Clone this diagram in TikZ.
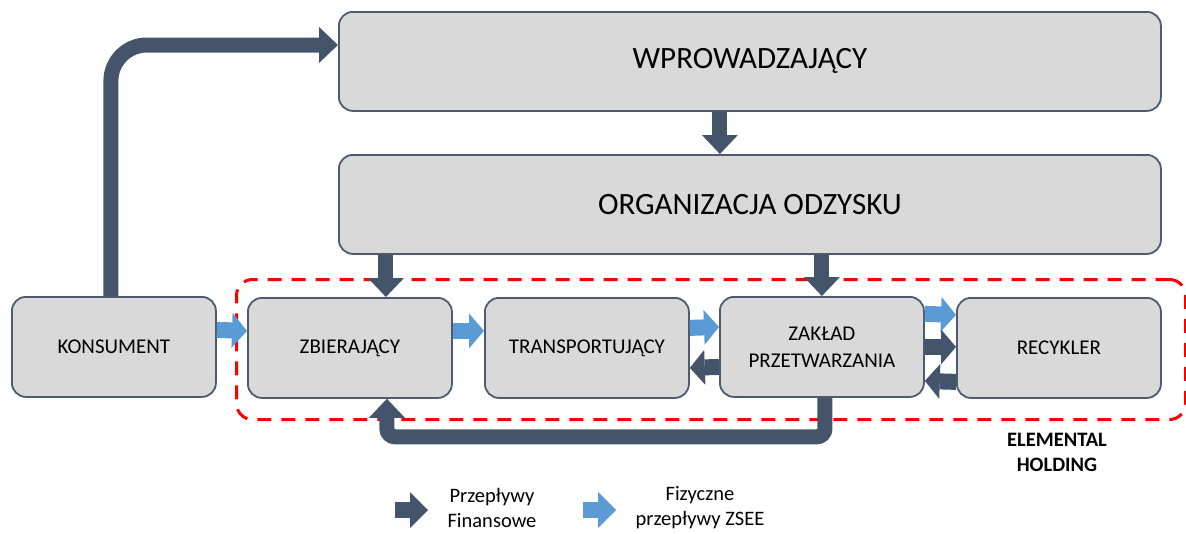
\documentclass[tikz,border=0pt]{standalone}
\usepackage{fontspec}
\setmainfont{Carlito}
\usetikzlibrary{arrows.meta,calc}
\definecolor{boxfill}{HTML}{D9D9D9}
\definecolor{boxline}{HTML}{4D5B70}
\definecolor{darkarr}{HTML}{44546A}
\definecolor{lightarr}{HTML}{5B9BD5}
\begin{document}
\begin{tikzpicture}[x=1pt,y=-1pt,
  box/.style={draw=boxline, line width=1.8pt, fill=boxfill, rounded corners=14pt,
    inner sep=0pt, anchor=north west, align=center, text=black},
  bigbox/.style={box, minimum width=822pt, minimum height=99pt, font=\fontsize{31}{37}\selectfont},
  smallbox/.style={box, minimum width=204pt, minimum height=100pt, font=\fontsize{21}{27}\selectfont},
  fatdark/.style={draw=darkarr, line width=15pt, -{Triangle[width=36pt,length=19pt,line width=0pt]}},
  hdark/.style={draw=darkarr, line width=16pt, -{Triangle[width=35pt,length=15pt,line width=0pt]}},
  hlight/.style={draw=lightarr, line width=16pt, -{Triangle[width=35pt,length=15pt,line width=0pt]}},
  legendtext/.style={align=center, font=\fontsize{20.5}{25}\selectfont},
  holding/.style={draw=red, line width=3pt, dash pattern=on 14pt off 10pt, rounded corners=16pt,
    anchor=north west, inner sep=0pt, minimum width=949pt, minimum height=140pt}
]
\useasboundingbox (0,0) rectangle (1186,533);

% ELEMENTAL HOLDING frame
\node[holding] (eh) at (235,278) {};

% boxes
\node[bigbox] (wpr) at (338,11) {WPROWADZAJĄCY};
\node[bigbox] (org) at (338,154) {ORGANIZACJA ODZYSKU};
\node[smallbox] (kons) at (11,296) {KONSUMENT};
\node[smallbox] (zbi) at (247,297) {ZBIERAJĄCY};
\node[smallbox] (tra) at (484,297) {TRANSPORTUJĄCY};
\node[smallbox] (zak) at (719,296) {ZAKŁAD\\PRZETWARZANIA};
\node[smallbox] (rec) at (956,297) {RECYKLER};

\node[font=\bfseries\fontsize{20.5}{25}\selectfont, align=center] (ehl) at (1057,452) {ELEMENTAL\\HOLDING};

% financial flows
\draw[fatdark, rounded corners=36pt] ($(kons.north)+(-3,0)$) |- ($(wpr.north west)+(0,34)$);
\coordinate (wprOut) at ($(wpr.south)+(-30,0)$);
\draw[fatdark] (wprOut) -- (wprOut |- org.north);
\coordinate (zbiIn) at ($(zbi.north)+(36,0)$);
\draw[fatdark] (zbiIn |- org.south) -- (zbiIn);
\draw[fatdark] (zak.north |- org.south) -- (zak.north);
\coordinate (zbiOut) at ($(zbi.south)+(37,0)$);
\draw[fatdark, rounded corners=8pt] ($(zak.south)+(3,0)$) -- ++(0,39) -| (zbiOut);

% horizontal flows
\draw[hlight] ($(kons.east)+(0,-17)$) -- ($(zbi.west)+(0,-17)$);
\draw[hlight] ($(zbi.east)+(0,-17)$) -- ($(tra.west)+(0,-17)$);
\draw[hlight] ($(tra.east)+(0,-20)$) -- ($(zak.west)+(0,-20)$);
\draw[hdark] ($(zak.west)+(0,20)$) -- ($(tra.east)+(0,20)$);
\draw[hlight] ($(zak.east)+(0,-33)$) -- ($(rec.west)+(0,-33)$);
\draw[hdark] (zak.east) -- (zak.east -| rec.west);
\draw[hdark] ($(rec.west)+(0,34)$) -- ($(zak.east)+(0,34)$);

% legend
\coordinate (l1a) at (395,510);
\coordinate (l1b) at (428,510);
\draw[hdark, -{Triangle[width=36pt,length=18pt,line width=0pt]}] (l1a) -- (l1b);
\node[legendtext] (l1t) at (492,508) {Przepływy\\Finansowe};
\coordinate (l2a) at (583,510);
\coordinate (l2b) at (616,510);
\draw[hlight, -{Triangle[width=36pt,length=18pt,line width=0pt]}] (l2a) -- (l2b);
\node[legendtext] (l2t) at (700,508) {Fizyczne\\przepływy ZSEE};
\end{tikzpicture}
\end{document}
